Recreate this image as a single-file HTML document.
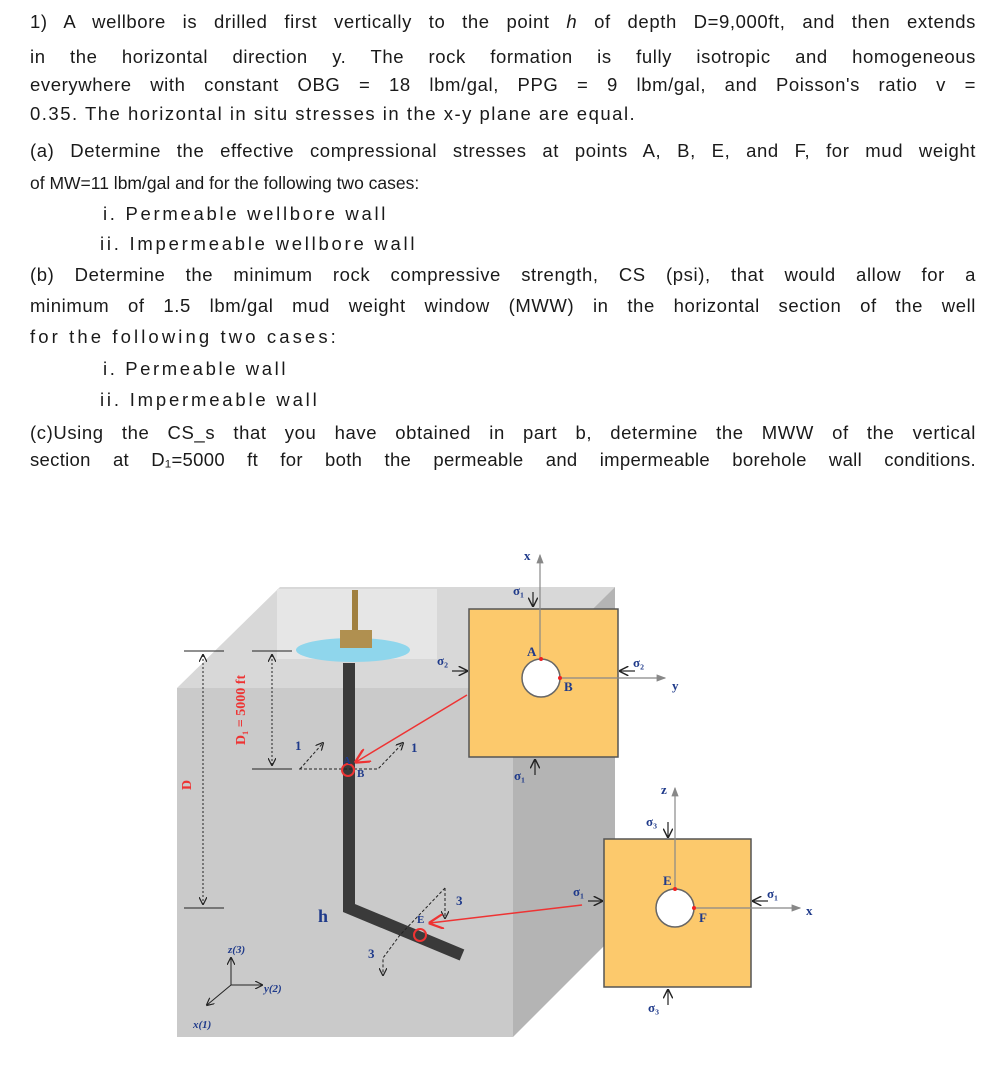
<!DOCTYPE html>
<html><head><meta charset="utf-8"><style>
body{margin:0;width:1006px;height:1076px;background:#fff;position:relative;overflow:hidden;font-family:"Liberation Sans",sans-serif;color:#1a1a1a}
.l{position:absolute;left:30px;width:946px;font-size:18.5px;letter-spacing:1.5px;white-space:nowrap;text-align:justify;text-align-last:justify;line-height:22px}
.n{text-align-last:auto}
svg{position:absolute;left:0;top:0}
.s{font-family:"Liberation Serif",serif;font-weight:bold;fill:#1f3a8a}
</style></head><body>
<div class="l" style="top:11px;letter-spacing:0.6px">1) A wellbore is drilled first vertically to the point <i>h</i> of depth D=9,000ft, and then extends</div>
<div class="l" style="top:46px;letter-spacing:0.6px">in the horizontal direction y. The rock formation is fully isotropic and homogeneous</div>
<div class="l" style="top:74px;letter-spacing:0.6px">everywhere with constant OBG = 18 lbm/gal, PPG = 9 lbm/gal, and Poisson's ratio v =</div>
<div class="l n" style="top:103px">0.35. The horizontal in situ stresses in the x-y plane are equal.</div>
<div class="l" style="top:140px;letter-spacing:0.6px">(a) Determine the effective compressional stresses at points A, B, E, and F, for mud weight</div>
<div class="l n" style="top:172px;font-size:17.5px;letter-spacing:0">of MW=11 lbm/gal and for the following two cases:</div>
<div class="l n" style="top:203px;left:103px;letter-spacing:2.7px">i. Permeable wellbore wall</div>
<div class="l n" style="top:233px;left:100px;letter-spacing:2.75px">ii. Impermeable wellbore wall</div>
<div class="l" style="top:264px;letter-spacing:0.6px">(b) Determine the minimum rock compressive strength, CS (psi), that would allow for a</div>
<div class="l" style="top:295px;letter-spacing:0.6px">minimum of 1.5 lbm/gal mud weight window (MWW) in the horizontal section of the well</div>
<div class="l n" style="top:326px;letter-spacing:3.1px">for the following two cases:</div>
<div class="l n" style="top:358px;left:103px;letter-spacing:2.6px">i. Permeable wall</div>
<div class="l n" style="top:389px;left:100px;letter-spacing:2.8px">ii. Impermeable wall</div>
<div class="l" style="top:422px;letter-spacing:0.6px">(c)Using the CS_s that you have obtained in part b, determine the MWW of the vertical</div>
<div class="l" style="top:449px;letter-spacing:0.3px">section at D₁=5000 ft for both the permeable and impermeable borehole wall conditions.</div>
<svg width="1006" height="1076">
<defs><marker id="a" markerWidth="8" markerHeight="8" refX="7" refY="4" orient="auto-start-reverse"><path d="M0,0 L8,4 L0,8" fill="none" stroke="#222" stroke-width="1.2"/></marker>
<marker id="r" markerWidth="10" markerHeight="10" refX="9" refY="5" orient="auto"><path d="M0,0 L10,5 L0,10" fill="none" stroke="#e33" stroke-width="1.5"/></marker>
<marker id="g" markerWidth="8" markerHeight="8" refX="7" refY="4" orient="auto"><path d="M0,1 L8,4 L0,7z" fill="#888"/></marker></defs>
<polygon points="177,688 280,587 615,587 513,688" fill="#d8d8d8"/>
<polygon points="513,688 615,587 615,935 513,1037" fill="#b4b4b4"/>
<rect x="177" y="688" width="336" height="349" fill="#cacaca"/>
<rect x="277" y="589" width="160" height="70" fill="#e6e6e6"/>
<ellipse cx="353" cy="650" rx="57" ry="12" fill="#8fd6ec"/>
<rect x="352" y="590" width="6" height="50" fill="#a08040"/>
<rect x="340" y="630" width="32" height="18" fill="#b09050"/>
<polyline points="349,663 349,908 462,955" fill="none" stroke="#3a3a3a" stroke-width="12"/>
<g stroke="#222" stroke-width="1" fill="none">
<line x1="184" y1="651" x2="224" y2="651"/><line x1="184" y1="908" x2="224" y2="908"/>
<line x1="203" y1="655" x2="203" y2="904" stroke-dasharray="2,2" marker-start="url(#a)" marker-end="url(#a)"/>
<line x1="252" y1="651" x2="292" y2="651"/><line x1="252" y1="769" x2="292" y2="769"/>
<line x1="272" y1="655" x2="272" y2="765" stroke-dasharray="2,2" marker-start="url(#a)" marker-end="url(#a)"/>
<polyline points="299,769 378,769 403,743" stroke-dasharray="3,2" marker-end="url(#a)"/>
<line x1="300" y1="769" x2="323" y2="743" stroke-dasharray="3,2" marker-end="url(#a)"/>
<polyline points="445,888 445,918" stroke-dasharray="3,2" marker-end="url(#a)"/>
<polyline points="445,888 400,935 383,958 383,975" stroke-dasharray="3,2" marker-end="url(#a)"/>
<line x1="231" y1="985" x2="231" y2="958" marker-end="url(#a)"/><line x1="231" y1="985" x2="262" y2="985" marker-end="url(#a)"/><line x1="231" y1="985" x2="207" y2="1005" marker-end="url(#a)"/>
</g>
<circle cx="348" cy="770" r="6" fill="none" stroke="#e33" stroke-width="2"/>
<circle cx="420" cy="935" r="6" fill="none" stroke="#e33" stroke-width="2"/>
<line x1="467" y1="695" x2="356" y2="762" stroke="#e33" stroke-width="1.5" marker-end="url(#r)"/>
<line x1="582" y1="905" x2="430" y2="923" stroke="#e33" stroke-width="1.5" marker-end="url(#r)"/>
<rect x="469" y="609" width="149" height="148" fill="#fcc96c" stroke="#555" stroke-width="1.5"/>
<rect x="604" y="839" width="147" height="148" fill="#fcc96c" stroke="#555" stroke-width="1.5"/>
<g stroke="#888" stroke-width="1.2"><line x1="540" y1="659" x2="540" y2="555" marker-end="url(#g)"/><line x1="560" y1="678" x2="665" y2="678" marker-end="url(#g)"/>
<line x1="675" y1="889" x2="675" y2="788" marker-end="url(#g)"/><line x1="694" y1="908" x2="800" y2="908" marker-end="url(#g)"/></g>
<circle cx="541" cy="678" r="19" fill="#fff" stroke="#666" stroke-width="1.5"/>
<circle cx="675" cy="908" r="19" fill="#fff" stroke="#666" stroke-width="1.5"/>
<g fill="#e22"><circle cx="541" cy="659" r="2"/><circle cx="560" cy="678" r="2"/><circle cx="675" cy="889" r="2"/><circle cx="694" cy="908" r="2"/></g>
<g stroke="#222" stroke-width="1.2" fill="none">
<line x1="533" y1="592" x2="533" y2="606" marker-end="url(#a)"/><line x1="535" y1="775" x2="535" y2="760" marker-end="url(#a)"/>
<line x1="452" y1="671" x2="467" y2="671" marker-end="url(#a)"/><line x1="635" y1="671" x2="620" y2="671" marker-end="url(#a)"/>
<line x1="668" y1="822" x2="668" y2="837" marker-end="url(#a)"/><line x1="668" y1="1005" x2="668" y2="990" marker-end="url(#a)"/>
<line x1="588" y1="901" x2="602" y2="901" marker-end="url(#a)"/><line x1="768" y1="901" x2="753" y2="901" marker-end="url(#a)"/>
</g>
<g class="s" font-size="13">
<text x="524" y="560">x</text><text x="672" y="690">y</text><text x="661" y="794">z</text><text x="806" y="915">x</text>
<text x="513" y="595">σ₁</text><text x="514" y="780">σ₁</text><text x="437" y="665">σ₂</text><text x="633" y="667">σ₂</text>
<text x="646" y="826">σ₃</text><text x="648" y="1012">σ₃</text><text x="573" y="896">σ₁</text><text x="767" y="898">σ₁</text>
<text x="527" y="656">A</text><text x="564" y="691">B</text><text x="663" y="885">E</text><text x="699" y="922">F</text>
<text x="295" y="750">1</text><text x="411" y="752">1</text><text x="456" y="905">3</text><text x="368" y="958">3</text>
<text x="343" y="764" font-size="11">A</text><text x="357" y="777" font-size="11">B</text><text x="417" y="923" font-size="11">E</text>
<text x="318" y="922" font-size="18">h</text>
<text x="228" y="953" font-size="11" font-style="italic">z(3)</text><text x="264" y="992" font-size="11" font-style="italic">y(2)</text><text x="193" y="1028" font-size="11" font-style="italic">x(1)</text>
</g>
<text class="s" transform="translate(191,790) rotate(-90)" font-size="14" style="fill:#e33">D</text>
<text class="s" transform="translate(245,745) rotate(-90)" font-size="14" style="fill:#e33">D₁ = 5000 ft</text>
</svg>
</body></html>
